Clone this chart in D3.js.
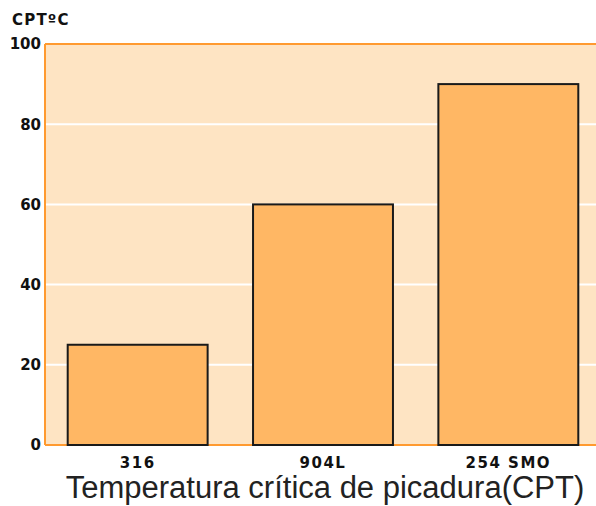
<!DOCTYPE html>
<html><head><meta charset="utf-8">
<script src="https://cdn.jsdelivr.net/npm/d3@7"></script>
<style>body{margin:0;background:#fff}</style>
</head><body>
<script>
const categories = ["316", "904L", "254 SMO"];
const values = [25, 60, 90];
const yTicks = [0, 20, 40, 60, 80, 100];
const yLabel = "CPT\u00baC";
const title = "Temperatura crítica de picadura(CPT)";

const W = 596, H = 506;
const m = {left: 45, top: 44, right: -5, bottom: 61};
const svg = d3.select("body").append("svg").attr("width", W).attr("height", H);

const x = d3.scaleBand().domain(categories).range([m.left, W - m.right])
  .paddingInner(0.245).paddingOuter(0.1225);
const y = d3.scaleLinear().domain([0, 100]).range([H - m.bottom, m.top]);

// plot background
svg.append("rect").attr("x", m.left).attr("y", y(100))
  .attr("width", W - m.left).attr("height", y(0) - y(100))
  .attr("fill", "#fee4c3");

// gridlines
svg.append("g").selectAll("line").data(yTicks.filter(d => d > 0 && d < 100)).join("line")
  .attr("x1", m.left).attr("x2", W).attr("y1", d => y(d)).attr("y2", d => y(d))
  .attr("stroke", "#ffffff").attr("stroke-width", 2);

// frame lines
svg.append("line").attr("x1", m.left).attr("x2", W).attr("y1", y(100)).attr("y2", y(100))
  .attr("stroke", "#ff9a30").attr("stroke-width", 2);
svg.append("line").attr("x1", m.left).attr("x2", W).attr("y1", y(0)).attr("y2", y(0))
  .attr("stroke", "#ff9a30").attr("stroke-width", 2);
svg.append("line").attr("x1", m.left).attr("x2", m.left).attr("y1", y(100)).attr("y2", y(0))
  .attr("stroke", "#ff9a30").attr("stroke-width", 2);

// bars
svg.append("g").selectAll("rect").data(values).join("rect")
  .attr("x", (d, i) => x(categories[i]))
  .attr("y", d => y(d))
  .attr("width", x.bandwidth())
  .attr("height", d => y(0) - y(d))
  .attr("fill", "#ffb764").attr("stroke", "#1a1a1a").attr("stroke-width", 2);

// y axis
const yAxis = svg.append("g").attr("transform", `translate(${m.left},0)`)
  .call(d3.axisLeft(y).tickValues(yTicks).tickSize(0).tickPadding(4));
yAxis.select(".domain").remove();
yAxis.selectAll("text").attr("font-family", "DejaVu Sans").attr("font-weight", "bold")
  .attr("font-size", 15).attr("fill", "#111");

// x axis
const xAxis = svg.append("g").attr("transform", `translate(0,${y(0)})`)
  .call(d3.axisBottom(x).tickSize(0).tickPadding(12));
xAxis.select(".domain").remove();
xAxis.selectAll("text").attr("font-family", "DejaVu Sans").attr("font-weight", "bold")
  .attr("font-size", 15).attr("letter-spacing", 1.5).attr("fill", "#111");

// y label
svg.append("text").attr("x", 12).attr("y", 25).text(yLabel)
  .attr("font-family", "DejaVu Sans").attr("font-weight", "bold")
  .attr("font-size", 15).attr("letter-spacing", 1.2).attr("fill", "#111");

// title
svg.append("text").attr("x", 325).attr("y", 498).attr("text-anchor", "middle").text(title)
  .attr("font-family", "Liberation Sans, Arial").attr("font-size", 31).attr("fill", "#222");
</script>
</body></html>
